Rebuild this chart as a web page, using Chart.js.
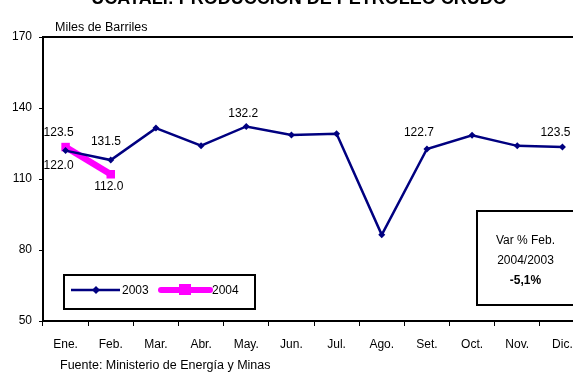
<!DOCTYPE html>
<html>
<head>
<meta charset="utf-8">
<script src="https://cdn.jsdelivr.net/npm/chart.js@4/dist/chart.umd.min.js"></script>
<style>
  html, body { margin:0; padding:0; background:#fff; }
  body { width:573px; height:374px; overflow:hidden; position:relative; font-family:"Liberation Sans", Arial, sans-serif; color:#000; }
  #c { position:absolute; left:0; top:0; }
  .t { position:absolute; white-space:nowrap; line-height:1; }
  #title { left:0; width:598px; text-align:center; top:-11px; font-weight:bold; font-size:18px; }
  #unit { left:55px; top:21px; font-size:12.5px; }
  #src { left:60px; top:359px; font-size:12.5px; }
  #var { position:absolute; left:476px; top:210px; width:120px; height:96px; border:2px solid #000; box-sizing:border-box; }
  #var div { position:absolute; left:0; width:95px; text-align:center; font-size:12px; line-height:1; }
</style>
</head>
<body>
<canvas id="c" width="600" height="374"></canvas>
<div class="t" id="title">UCAYALI: PRODUCCIÓN DE PETRÓLEO CRUDO</div>
<div class="t" id="unit">Miles de Barriles</div>
<div class="t" id="src">Fuente: Ministerio de Energía y Minas</div>
<div id="var">
  <div style="top:22px">Var % Feb.</div>
  <div style="top:42px">2004/2003</div>
  <div style="top:62px;font-weight:bold">-5,1%</div>
</div>
<script>
const months = ["Ene.","Feb.","Mar.","Abr.","May.","Jun.","Jul.","Ago.","Set.","Oct.","Nov.","Dic."];
const series2003 = [122.0, 118.0, 131.5, 124.1, 132.2, 128.6, 129.1, 86.4, 122.7, 128.5, 124.0, 123.5];
const series2004 = [123.5, 112.0];
const yTicks = [50, 80, 110, 140, 170];
const seriesNames = ["2003", "2004"];
// value labels shown in the picture: [series index, point index]
const labelled = [[1,0],[0,0],[0,2],[1,1],[0,4],[0,8],[0,11]];

const FONT = { family: "'Liberation Sans', Arial, sans-serif", size: 12 };
const NAVY = "#000080", MAGENTA = "#FF00FF";

// label offsets relative to its point (style only)
const labelOffsets = {
  "1,0": [-7, -14], "0,0": [-7, 15], "0,2": [-50, 14], "1,1": [-2, 12],
  "0,4": [-3, -13], "0,8": [-8, -16], "0,11": [-7, -14]
};
const valueLabels = {
  id: "valueLabels",
  afterDatasetsDraw(chart) {
    const ctx = chart.ctx;
    ctx.save();
    ctx.font = "12px " + FONT.family;
    ctx.fillStyle = "#000";
    ctx.textAlign = "center";
    ctx.textBaseline = "middle";
    labelled.forEach(([d, i]) => {
      const pt = chart.getDatasetMeta(d).data[i];
      const v = chart.data.datasets[d].data[i];
      const off = labelOffsets[d + "," + i];
      ctx.fillText(v.toFixed(1), pt.x + off[0], pt.y + off[1]);
    });
    ctx.restore();
  }
};
const frame = {
  id: "frame",
  beforeDatasetsDraw(chart) {
    const a = chart.chartArea, ctx = chart.ctx;
    ctx.save();
    ctx.strokeStyle = "#000";
    ctx.lineWidth = 2;
    ctx.strokeRect(a.left, a.top, a.right - a.left, a.bottom - a.top);
    ctx.restore();
  }
};
const legendBox = {
  id: "legendBox",
  afterDatasetsDraw(chart) {
    const ctx = chart.ctx;
    const ds = chart.data.datasets;
    ctx.save();
    ctx.fillStyle = "#fff";
    ctx.fillRect(64, 275, 191, 34);
    ctx.strokeStyle = "#000";
    ctx.lineWidth = 2;
    ctx.strokeRect(64, 275, 191, 34);
    const y = 290;
    // 2003
    ctx.strokeStyle = NAVY; ctx.lineWidth = 2.5;
    ctx.beginPath(); ctx.moveTo(71, y); ctx.lineTo(120, y); ctx.stroke();
    ctx.fillStyle = NAVY;
    ctx.beginPath(); ctx.moveTo(96, y - 4); ctx.lineTo(100, y); ctx.lineTo(96, y + 4); ctx.lineTo(92, y); ctx.closePath(); ctx.fill();
    // 2004
    ctx.strokeStyle = MAGENTA; ctx.lineWidth = 6; ctx.lineCap = "round";
    ctx.beginPath(); ctx.moveTo(161, y); ctx.lineTo(210, y); ctx.stroke();
    ctx.fillStyle = MAGENTA;
    ctx.fillRect(179, y - 6, 12, 11);
    ctx.fillStyle = "#000";
    ctx.font = "12px " + FONT.family;
    ctx.textBaseline = "middle"; ctx.textAlign = "left";
    ctx.fillText(ds[0].label, 122, y + 1);
    ctx.fillText(ds[1].label, 212, y + 1);
    ctx.restore();
  }
};

new Chart(document.getElementById("c"), {
  type: "line",
  data: {
    labels: months,
    datasets: [
      { label: seriesNames[0], data: series2003, borderColor: NAVY, backgroundColor: NAVY,
        borderWidth: 2.5, pointStyle: "rectRot", pointRadius: 3.5, pointBorderWidth: 0, tension: 0 },
      { label: seriesNames[1], data: series2004, borderColor: MAGENTA, backgroundColor: MAGENTA,
        borderWidth: 6.5, pointStyle: "rect", pointRadius: 6, pointBorderWidth: 0, tension: 0 }
    ]
  },
  options: {
    responsive: false, animation: false, devicePixelRatio: 1,
    layout: { padding: { top: 37, right: 15, bottom: 0, left: 0 } },
    plugins: { legend: { display: false }, tooltip: { enabled: false }, title: { display: false } },
    scales: {
      x: {
        offset: true,
        afterFit(s) { s.height = 53; },
        grid: { offset: true, drawOnChartArea: false, drawTicks: true, tickLength: 5, color: "#000", lineWidth: 1 },
        border: { display: true, color: "#000", width: 2 },
        ticks: { color: "#000", font: FONT, padding: 11, maxRotation: 0, autoSkip: false }
      },
      y: {
        min: 50, max: 170,
        afterFit(s) { s.width = 43; },
        afterBuildTicks(s) { s.ticks = yTicks.map(v => ({ value: v })); },
        grid: { drawOnChartArea: false, drawTicks: true, tickLength: 4, color: "#000", lineWidth: 1 },
        border: { display: true, color: "#000", width: 2 },
        ticks: { color: "#000", font: FONT, padding: 7 }
      }
    }
  },
  plugins: [frame, valueLabels, legendBox]
});
</script>
</body>
</html>
